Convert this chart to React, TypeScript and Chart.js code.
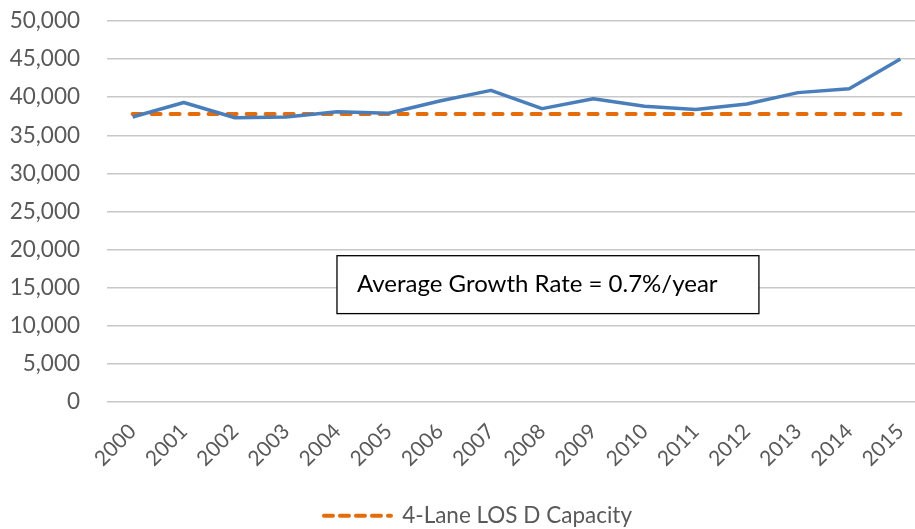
import React, { useEffect, useRef } from "react";
import { Chart, registerables } from "chart.js";

Chart.register(...registerables);

const years = ["2000","2001","2002","2003","2004","2005","2006","2007","2008","2009","2010","2011","2012","2013","2014","2015"];
const traffic = [37400, 39300, 37300, 37400, 38100, 37900, 39500, 40900, 38500, 39800, 38800, 38400, 39100, 40600, 41100, 45000];
const capacity = [37800, 37800, 37800, 37800, 37800, 37800, 37800, 37800, 37800, 37800, 37800, 37800, 37800, 37800, 37800, 37800];
const trafficLabel = "AADT";
const capacityLabel = "4-Lane LOS D Capacity";
const noteText = "Average Growth Rate = 0.7%/year";

const FONT = "Lato, 'Open Sans', sans-serif";

const notePlugin = {
  id: "noteBox",
  afterLayout(chart: any) {
    const l = chart.legend;
    if (l) { l.left += 15; l.right += 15; }
  },
  afterDatasetsDraw(chart: any) {
    const { ctx, chartArea } = chart;
    const w = chartArea.right - chartArea.left;
    const h = chartArea.bottom - chartArea.top;
    const x0 = chartArea.left + w * 0.2808;
    const x1 = chartArea.left + w * 0.796;
    const y0 = chartArea.top + h * 0.616;
    const y1 = chartArea.top + h * 0.768;
    ctx.save();
    ctx.fillStyle = "#ffffff";
    ctx.fillRect(x0, y0, x1 - x0, y1 - y0);
    ctx.strokeStyle = "#000000";
    ctx.lineWidth = 1.3;
    ctx.strokeRect(x0, y0, x1 - x0, y1 - y0);
    ctx.fillStyle = "#000000";
    ctx.font = `24px ${FONT}`;
    ctx.textAlign = "left";
    ctx.textBaseline = "middle";
    ctx.fillText(noteText, x0 + 20, (y0 + y1) / 2);
    ctx.restore();
  },
};

export default function App() {
  const ref = useRef<HTMLCanvasElement | null>(null);
  useEffect(() => {
    if (!ref.current) return;
    const chart = new Chart(ref.current, {
      type: "line",
      data: {
        labels: years,
        datasets: [
          {
            label: trafficLabel,
            data: traffic,
            borderColor: "#4a7ebb",
            backgroundColor: "#4a7ebb",
            borderWidth: 3.5,
            pointRadius: 0,
            tension: 0,
            borderJoinStyle: "round",
          },
          {
            label: capacityLabel,
            data: capacity,
            borderColor: "#e46c0a",
            backgroundColor: "#e46c0a",
            borderWidth: 4,
            borderDash: [9, 10],
            borderCapStyle: "round",
            pointRadius: 0,
          },
        ],
      },
      options: {
        responsive: false,
        animation: false,
        layout: { padding: { top: 21, left: 0, right: 0, bottom: -8 } },
        scales: {
          x: {
            offset: true,
            grid: { display: false, drawTicks: false },
            border: { display: false },
            ticks: {
              minRotation: 45,
              maxRotation: 45,
              padding: 17,
              color: "#595959",
              font: { family: FONT, size: 21 },
              autoSkip: false,
            },
            afterFit: (s: any) => { s.height = 99.5; s.paddingLeft = 0; s.paddingRight = 0; },
          },
          y: {
            min: 0,
            max: 50000,
            grid: { color: "#c8c8c8", lineWidth: 1.5, drawTicks: false },
            border: { display: false },
            ticks: {
              stepSize: 5000,
              padding: 27,
              color: "#595959",
              font: { family: FONT, size: 22.5 },
            },
            afterFit: (s: any) => { s.width = 107; s.paddingTop = 0; s.paddingBottom = 0; },
          },
        },
        plugins: {
          tooltip: { enabled: false },
          legend: {
            position: "bottom",
            labels: {
              filter: (item: any) => item.text === capacityLabel,
              usePointStyle: true,
              pointStyle: "line",
              pointStyleWidth: 67,
              color: "#595959",
              font: { family: FONT, size: 22.5 },
              padding: 3,
              generateLabels: (c: any) => {
                const items = Chart.defaults.plugins.legend.labels.generateLabels(c);
                return items.map((it: any) => ({
                  ...it,
                  pointStyle: "line",
                  lineWidth: 4,
                  lineDash: [9, 7],
                  lineCap: "round",
                  strokeStyle: "#e46c0a",
                }));
              },
            },
          },
        },
      },
      plugins: [notePlugin],
    });
    return () => chart.destroy();
  }, []);
  return (
    <div style={{ position: "fixed", left: 0, top: 0, width: 915, height: 529, overflow: "hidden", background: "#fff" }}>
      <canvas ref={ref} width={926} height={529} style={{ display: "block" }} />
    </div>
  );
}
